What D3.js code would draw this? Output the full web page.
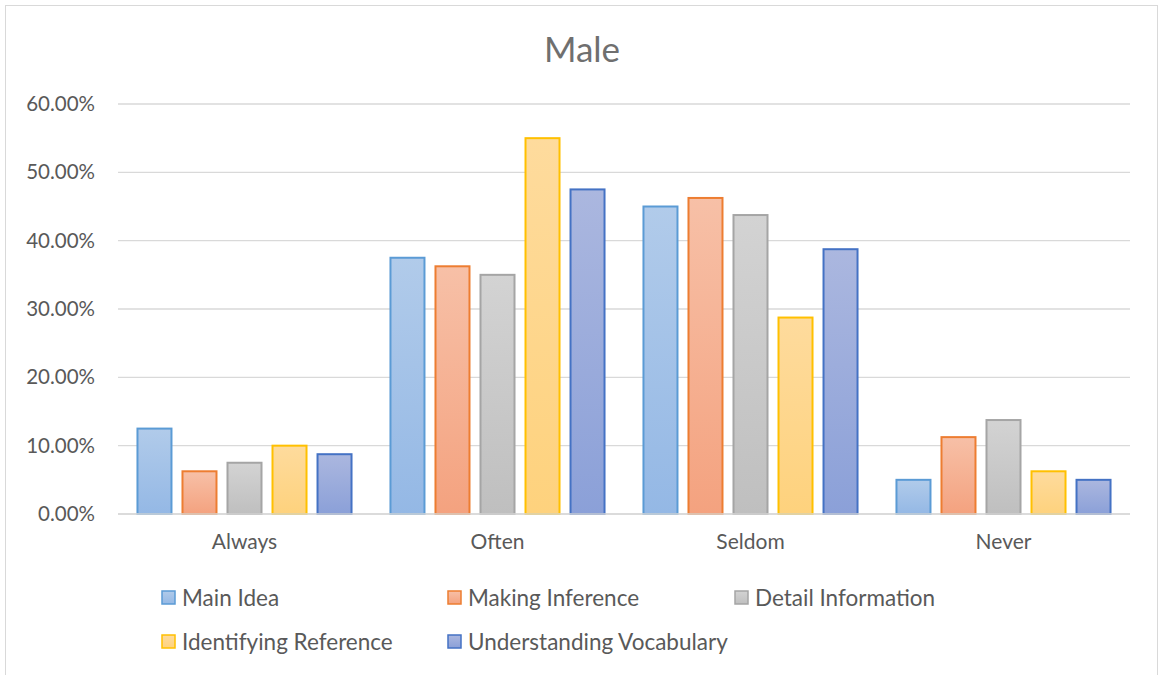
<!DOCTYPE html>
<html>
<head>
<meta charset="utf-8">
<script src="https://cdn.jsdelivr.net/npm/d3@7"></script>
<style>
  body { margin: 0; background: #fff; }
  text { font-family: Lato, "Open Sans", sans-serif; fill: #595959; }
</style>
</head>
<body>
<div id="chart"></div>
<script>
(function(d3) {
  'use strict';

  var categories = ['Always', 'Often', 'Seldom', 'Never'];
  var seriesNames = ['Main Idea', 'Making Inference', 'Detail Information', 'Identifying Reference', 'Understanding Vocabulary'];
  var mainIdea = [0.125, 0.375, 0.45, 0.05];
  var makingInference = [0.0625, 0.3625, 0.4625, 0.1125];
  var detailInformation = [0.075, 0.35, 0.4375, 0.1375];
  var identifyingReference = [0.10, 0.55, 0.2875, 0.0625];
  var understandingVocabulary = [0.0875, 0.475, 0.3875, 0.05];
  var yTicks = [0, 0.1, 0.2, 0.3, 0.4, 0.5, 0.6];

  var seriesValues = [mainIdea, makingInference, detailInformation, identifyingReference, understandingVocabulary];
  var strokes = ['#5B9BD5', '#ED7D31', '#A5A5A5', '#FFC000', '#4472C4'];
  var topFill = ['#b1cbea', '#f7c0a7', '#d3d3d3', '#fedb9d', '#abb7df'];
  var botFill = ['#94b8e5', '#f4a27f', '#bfbfbf', '#fed27d', '#8ba0d8'];

  var width = 1160, height = 675;
  var margin = { left: 118, right: 30, top: 104, bottom: 161 };

  var svg = d3.select('#chart').append('svg')
    .attr('width', width)
    .attr('height', height);

  var defs = svg.append('defs');
  seriesNames.forEach(function(s, i) {
    var g = defs.append('linearGradient')
      .attr('id', 'grad' + i)
      .attr('x1', 0).attr('y1', 0).attr('x2', 0).attr('y2', 1);
    g.append('stop').attr('offset', '0%').attr('stop-color', topFill[i]);
    g.append('stop').attr('offset', '100%').attr('stop-color', botFill[i]);
  });

  // chart frame
  svg.append('rect')
    .attr('x', 5.5).attr('y', 5.5)
    .attr('width', 1152).attr('height', 700)
    .attr('fill', '#fff')
    .attr('stroke', '#d9d9d9');

  var x0 = d3.scaleBand()
    .domain(categories)
    .range([margin.left, width - margin.right])
    .paddingInner(0.146)
    .paddingOuter(0.073);

  var x1 = d3.scaleBand()
    .domain(d3.range(seriesNames.length))
    .range([0, x0.bandwidth()])
    .paddingInner(0.2);

  var y = d3.scaleLinear()
    .domain([0, 0.6])
    .range([height - margin.bottom, margin.top]);

  // gridlines
  svg.append('g')
    .selectAll('line')
    .data(yTicks)
    .enter()
    .append('line')
    .attr('x1', margin.left)
    .attr('x2', width - margin.right)
    .attr('y1', function(d) { return y(d); })
    .attr('y2', function(d) { return y(d); })
    .attr('stroke', '#d9d9d9')
    .attr('stroke-width', 1.3);

  // y axis labels
  var yAxis = d3.axisLeft(y)
    .tickValues(yTicks)
    .tickFormat(d3.format('.2%'))
    .tickSize(0)
    .tickPadding(23);
  var ya = svg.append('g')
    .attr('transform', 'translate(' + margin.left + ',0)')
    .call(yAxis);
  ya.select('.domain').remove();
  ya.selectAll('text')
    .style('font-size', '20.5px')
    .style('font-family', 'Lato, sans-serif')
    .attr('fill', '#595959');

  // x axis labels
  var xAxis = d3.axisBottom(x0).tickSize(0).tickPadding(20);
  var xa = svg.append('g')
    .attr('transform', 'translate(0,' + (height - margin.bottom) + ')')
    .call(xAxis);
  xa.select('.domain').remove();
  xa.selectAll('text')
    .style('font-size', '21px')
    .style('font-family', 'Lato, sans-serif')
    .attr('fill', '#595959');

  // bars
  var groups = svg.append('g')
    .selectAll('g')
    .data(categories)
    .enter()
    .append('g')
    .attr('transform', function(d) { return 'translate(' + x0(d) + ',0)'; });

  groups.selectAll('rect')
    .data(function(d, ci) {
      return seriesValues.map(function(vals, si) { return { si: si, v: vals[ci] }; });
    })
    .enter()
    .append('rect')
    .attr('x', function(d) { return x1(d.si) + 1; })
    .attr('width', x1.bandwidth() - 2)
    .attr('y', function(d) { return y(d.v); })
    .attr('height', function(d) { return y(0) - y(d.v); })
    .attr('fill', function(d) { return 'url(#grad' + d.si + ')'; })
    .attr('stroke', function(d) { return strokes[d.si]; })
    .attr('stroke-width', 2);

  // baseline
  svg.append('line')
    .attr('x1', margin.left).attr('x2', width - margin.right)
    .attr('y1', y(0)).attr('y2', y(0))
    .attr('stroke', '#d9d9d9')
    .attr('stroke-width', 1.3);

  // title
  svg.append('text')
    .attr('x', 582)
    .attr('y', 62)
    .attr('text-anchor', 'middle')
    .style('font-size', '35px')
    .style('fill', '#6f6f6f')
    .text('Male');

  // legend
  var legendPos = [[162, 598], [448, 598], [735, 598], [162, 642], [448, 642]];
  var legend = svg.append('g')
    .selectAll('g')
    .data(seriesNames)
    .enter()
    .append('g')
    .attr('transform', function(d, i) {
      return 'translate(' + legendPos[i][0] + ',' + legendPos[i][1] + ')';
    });
  legend.append('rect')
    .attr('x', 0).attr('y', -7)
    .attr('width', 13).attr('height', 13)
    .attr('fill', function(d, i) { return 'url(#grad' + i + ')'; })
    .attr('stroke', function(d, i) { return strokes[i]; })
    .attr('stroke-width', 1.5);
  legend.append('text')
    .attr('x', 20)
    .attr('y', 0)
    .attr('dy', '0.35em')
    .style('font-size', '22.5px')
    .text(function(d) { return d; });

})(window.d3);
</script>
</body>
</html>
